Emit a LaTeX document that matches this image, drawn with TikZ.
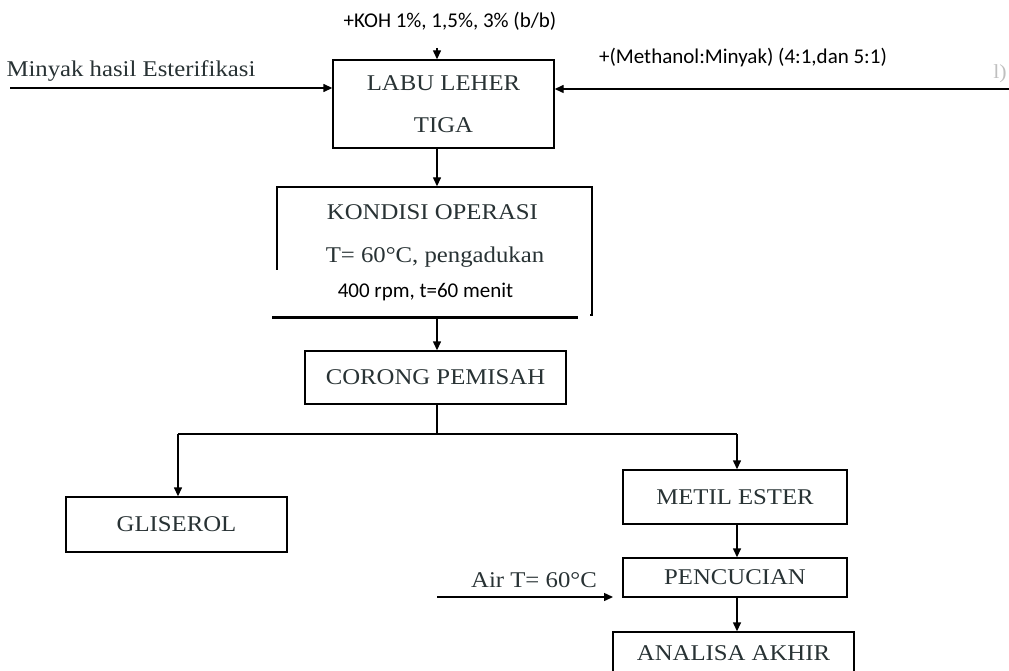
\documentclass[tikz,border=0pt]{standalone}
\usepackage{fontspec}
\setmainfont{Liberation Serif}[FakeStretch=1.1]
\newfontfamily\calfont{Carlito}
\usetikzlibrary{arrows.meta}
\definecolor{ink}{RGB}{40,50,52}
\tikzset{
  flow/.style={line width=1.4pt, -{Triangle[length=9pt,width=8pt]}},
  plain/.style={line width=1.4pt},
  box/.style={draw, line width=1.4pt, rectangle, inner sep=0pt, text=ink,
    font=\fontsize{22.5}{26}\selectfont},
  serif/.style={text=ink, inner sep=0pt, font=\fontsize{22.5}{26}\selectfont},
  sans/.style={text=black, inner sep=0pt, font=\calfont\fontsize{21}{24}\selectfont},
}
\begin{document}
\begin{tikzpicture}[x=1pt, y=-1pt]
\useasboundingbox (0,0) rectangle (1009,671);
\clip (0,0) rectangle (1009,671);

% reaction flask
\node[box, minimum width=221pt, minimum height=88pt, align=center,
      font=\fontsize{22.5}{42}\selectfont] (labu) at (443.5,104)
      {LABU LEHER\\TIGA};
\node[sans] (koh) at (450,21) {+KOH 1\%, 1,5\%, 3\% (b/b)};
\coordinate (kohend) at (437,48);
\draw[flow] (kohend) -- (kohend |- labu.north);

\node[serif] (minyak) at (131,71) {Minyak hasil Esterifikasi};
\coordinate (minyakstart) at (10,88);
\draw[flow] (minyakstart) -- (minyakstart -| labu.west);

\node[sans] (metanol) at (743,58) {+(Methanol:Minyak) (4:1,dan 5:1)};
\node[text=black!25, inner sep=0pt, font=\fontsize{20}{24}\selectfont] (sisa) at (1000,74) {l)};
\coordinate (metanolstart) at (1012,89);
\draw[flow] (metanolstart) -- (metanolstart -| labu.east);

% operating conditions
\node[box, minimum width=315pt, minimum height=128pt] (kondisi) at (434.5,251) {};
\node[serif] (k1) at (432.5,212) {KONDISI OPERASI};
\node[serif] (k2) at (435,257) {T= 60\textdegree C, pengadukan};
\fill[white] (272,270) rectangle (590,316);
\node[sans] (k3) at (425.5,292) {400 rpm, t=60 menit};
\coordinate (rulea) at (272,317);
\coordinate (ruleb) at (578,317);
\draw[line width=3pt] (rulea) -- (ruleb);

\coordinate (cx) at (437,0);
\draw[flow] (labu.south -| cx) -- (kondisi.north -| cx);

% separating funnel
\node[box, minimum width=261pt, minimum height=53pt] (corong) at (435.5,377.5) {CORONG PEMISAH};
\draw[flow] (cx |- rulea) -- (corong.north -| cx);

\coordinate (split) at (437,434);
\coordinate (splitl) at (178,434);
\coordinate (splitr) at (737,434);
\draw[plain] (corong.south -| cx) -- (split);
\draw[plain] (splitl) -- (splitr);

% products
\node[box, minimum width=221pt, minimum height=55pt] (gliserol) at (176.5,524.5) {GLISEROL};
\node[box, minimum width=224pt, minimum height=54pt] (metil) at (735,497) {METIL ESTER};
\node[box, minimum width=224pt, minimum height=39pt] (cuci) at (735,577.5) {PENCUCIAN};
\node[box, minimum width=241pt, minimum height=70pt] (analisa) at (733.5,667) {};
\node[serif] (analisatxt) at (733.5,653) {ANALISA AKHIR};

\draw[flow] (splitl) -- (splitl |- gliserol.north);
\draw[flow] (splitr) -- (splitr |- metil.north);
\draw[flow] (metil.south -| splitr) -- (cuci.north -| splitr);
\draw[flow] (cuci.south -| splitr) -- (analisa.north -| splitr);

\node[serif] (air) at (534,580) {Air T= 60\textdegree C};
\coordinate (airstart) at (437,597);
\coordinate (airend) at (613,597);
\draw[flow] (airstart) -- (airend);
\end{tikzpicture}
\end{document}
